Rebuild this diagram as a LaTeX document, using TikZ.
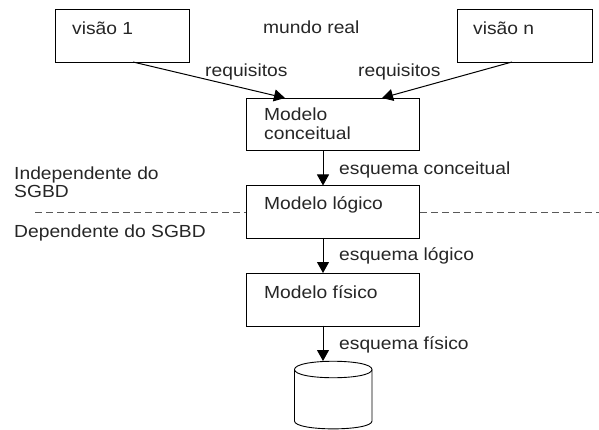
\documentclass[tikz,border=0pt]{standalone}
\usepackage{fontspec}
\setmainfont[FakeStretch=1.1]{Liberation Sans}
\usetikzlibrary{arrows.meta}
\tikzset{
  x=1pt,y=-1pt,
  box/.style={draw=black,line width=1pt,fill=white,minimum width=#1,inner sep=0pt,anchor=north west,line join=miter},
  box/.default=173pt,
  txt/.style={anchor=base west,inner sep=0pt,text=black!85,font=\fontsize{17.5pt}{20pt}\selectfont,align=left},
  conn/.style={draw=black,line width=1pt,-{Triangle[length=11pt,width=12pt]}},
  sep/.style={draw=black!65,line width=1.4pt,dash pattern=on 7pt off 4pt},
  dbline/.style={draw=black,line width=0.9pt,fill=white}
}
\begin{document}
\begin{tikzpicture}
\useasboundingbox (0,0) rectangle (599,430);
\coordinate (sl1) at (35,212.5);
\coordinate (sl2) at (599,212.5);
\draw[sep] (sl1) -- (sl2);
\node[box=134.5pt,minimum height=52.5pt] (v1) at (54.5,9.5) {};
\node[box=134.5pt,minimum height=52.5pt] (vn) at (457,9.5) {};
\node[box,minimum height=52.5pt] (mc) at (246,98) {};
\node[box,minimum height=52.5pt] (ml) at (246,185.5) {};
\node[box,minimum height=52.5pt] (mf) at (246,273) {};
\coordinate (dl) at (294.5,369.5);
\coordinate (dr) at (372,369.5);
\coordinate (dbl) at (294.5,421);
\coordinate (dbr) at (372,421);
\draw[dbline] (dl) .. controls (294.5,358.5) and (372,358.5) .. (dr)
  -- (dbr) .. controls (372,431.5) and (294.5,431.5) .. (dbl) -- cycle;
\draw[dbline,fill=none] (dl) .. controls (294.5,380.5) and (372,380.5) .. (dr);
\coordinate (a1) at (133,62);
\coordinate (b1) at (285,98);
\coordinate (a2) at (512,62);
\coordinate (b2) at (382,98);
\draw[conn] (a1) -- (b1);
\draw[conn] (a2) -- (b2);
\coordinate (c1) at (323,150.5);
\coordinate (c2) at (323,185.5);
\coordinate (c3) at (323,238);
\coordinate (c4) at (323,273);
\coordinate (c5) at (323,325.5);
\coordinate (c6) at (323,361);
\draw[conn] (c1) -- (c2);
\draw[conn] (c3) -- (c4);
\draw[conn] (c5) -- (c6);
\node[txt] (t1) at (72,35) {visão 1};
\node[txt] (t2) at (473,35) {visão n};
\node[txt] (t3) at (263,34) {mundo real};
\node[txt] (t4) at (205,77) {requisitos};
\node[txt] (t5) at (358,77) {requisitos};
\node[txt] (t6) at (264,120.5) {Modelo};
\node[txt] (t7) at (264,140) {conceitual};
\node[txt] (t8) at (339,175) {esquema conceitual};
\node[txt] (t9) at (264,210) {Modelo lógico};
\node[txt] (t10) at (339,260) {esquema lógico};
\node[txt] (t11) at (264,298) {Modelo físico};
\node[txt] (t12) at (339,349) {esquema físico};
\node[txt] (t13) at (14,180) {Independente do};
\node[txt] (t14) at (14,198) {SGBD};
\node[txt] (t15) at (14,237) {Dependente do SGBD};
\end{tikzpicture}
\end{document}
